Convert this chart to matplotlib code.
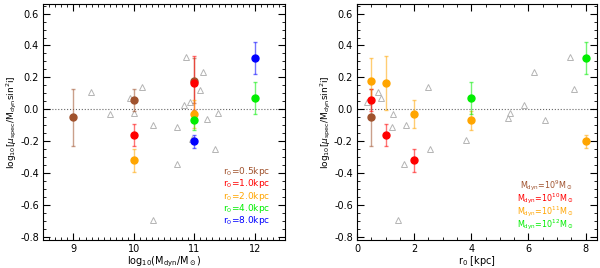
import numpy as np
import matplotlib.pyplot as plt
from matplotlib.ticker import MultipleLocator

# model points: log10 Mdyn, r0 [kpc], log ratio, error
mdyn=[9, 10, 10, 10, 11, 11, 11, 11, 11, 12, 12]
r0=[0.5, 0.5, 1.0, 2.0, 0.5, 1.0, 2.0, 4.0, 8.0, 4.0, 8.0]
ratio=[-0.05, 0.06, -0.16, -0.32, 0.18, 0.165, -0.03, -0.07, -0.20, 0.07, 0.32]
err=[0.18, 0.07, 0.07, 0.07, 0.14, 0.17, 0.09, 0.06, 0.04, 0.10, 0.10]

# observed (open triangles)
obs_m=[9.29, 9.60, 9.93, 10.00, 10.13, 10.32, 10.71, 10.83, 10.86, 10.93,
	11.14, 11.09, 11.21, 11.39, 10.96, 11.35, 10.72, 10.31]
obs_m_y=[0.108, -0.027, 0.069, -0.025, 0.137, -0.10, -0.113, 0.025, 0.331, 0.048,
	0.231, 0.123, -0.06, -0.021, -0.186, -0.248, -0.342, -0.694]
obs_r=[0.35, 0.73, 0.83, 1.26, 1.22, 1.73, 2.50, 5.29, 5.36, 5.85,
	6.18, 6.59, 7.47, 7.58, 1.65, 1.42, 2.57, 3.81]
obs_r_y=[0.048, 0.106, 0.069, -0.027, -0.113, -0.10, 0.137, -0.056, -0.021, 0.025,
	0.231, -0.067, 0.331, 0.125, -0.344, -0.694, -0.248, -0.194]

r0_levels=[0.5, 1.0, 2.0, 4.0, 8.0]
r0_colors=["#a0522d", "#ff0000", "#ffa500", "#00ee00", "#0000ff"]
m_levels=[9, 10, 11, 12]
m_colors=["#a0522d", "#ff0000", "#ffa500", "#00ee00"]

plt.rcParams["axes.unicode_minus"]=False

def style(ax):
	ax.set_ylim(-0.82, 0.66)
	ax.yaxis.set_major_locator(MultipleLocator(0.2))
	ax.yaxis.set_minor_locator(MultipleLocator(0.05))
	ax.tick_params(which="both", direction="in", top=True, right=True, labelsize=7, pad=3)
	ax.tick_params(which="major", length=5)
	ax.tick_params(which="minor", length=2.5)
	ax.axhline(0, color="0.4", ls=":", lw=0.8, zorder=0)
	ax.set_ylabel(r"log$_{10}$[$\mu_{\rm spec}$/M$_{\rm dyn}$sin$^2$i]", fontsize=6.5, labelpad=1)

def points(ax, x, y, e, cols):
	for xi, yi, ei, c in zip(x, y, e, cols):
		ax.errorbar(xi, yi, yerr=ei, fmt="none", ecolor=c, alpha=0.55, elinewidth=1.0, capsize=1.5, zorder=2)
		ax.plot(xi, yi, "o", color=c, ms=5, mec=c, zorder=3)

fig=plt.figure(figsize=(6, 2.68), dpi=100)
ax1=fig.add_axes([0.072, 0.104, 0.403, 0.881])
ax2=fig.add_axes([0.595, 0.104, 0.400, 0.881])

# left: vs dynamical mass, colour = r0
style(ax1)
ax1.set_xlim(8.5, 12.5)
ax1.xaxis.set_major_locator(MultipleLocator(1))
ax1.xaxis.set_minor_locator(MultipleLocator(0.1))
ax1.plot(obs_m, obs_m_y, "^", mfc="none", mec="#b4b4b4", ms=4.5, mew=0.7, zorder=1)
points(ax1, mdyn, ratio, err, [r0_colors[r0_levels.index(r)] for r in r0])
ax1.set_xlabel(r"log$_{10}$(M$_{\rm dyn}$/M$_\odot$)", fontsize=7, labelpad=0)
for i, (r, c) in enumerate(zip(r0_levels, r0_colors)):
	ax1.text(0.94, 0.29-i*0.052, f"r$_0$={r:.1f}kpc", color=c, fontsize=6.5,
		ha="right", va="center", transform=ax1.transAxes)

# right: vs r0, colour = mass
style(ax2)
ax2.set_xlim(0, 8.4)
ax2.xaxis.set_major_locator(MultipleLocator(2))
ax2.xaxis.set_minor_locator(MultipleLocator(0.5))
ax2.plot(obs_r, obs_r_y, "^", mfc="none", mec="#b4b4b4", ms=4.5, mew=0.7, zorder=1)
points(ax2, r0, ratio, err, [m_colors[m_levels.index(m)] for m in mdyn])
ax2.set_xlabel(r"r$_0$ [kpc]", fontsize=7, labelpad=0)
for i, (m, c) in enumerate(zip(m_levels, m_colors)):
	ax2.text(0.90, 0.232-i*0.055, r"M$_{\rm dyn}$=10$^{%d}$M$_\odot$" % m, color=c, fontsize=5.8,
		ha="right", va="center", transform=ax2.transAxes)

for ax in (ax1, ax2):
	for s in ax.spines.values():
		s.set_linewidth(0.8)

fig.savefig("out.png", dpi=100)
